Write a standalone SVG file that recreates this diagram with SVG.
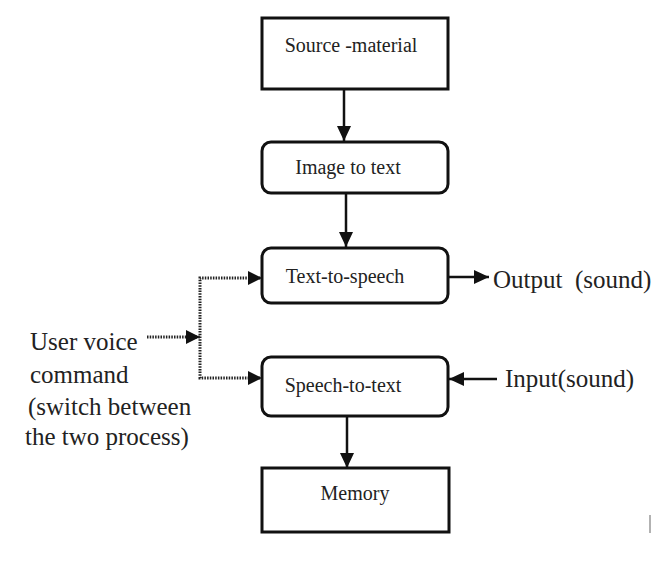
<svg xmlns="http://www.w3.org/2000/svg" width="657" height="565" viewBox="0 0 657 565">
<style>
.box{fill:#fff;stroke:#111;stroke-width:3}
.lbl{font-size:20px;fill:#222;text-anchor:middle}
.big{font-size:25px;fill:#222}
.ln{stroke:#111;stroke-width:2.5;fill:none}
.dot{stroke:#222;stroke-width:3;fill:none;stroke-dasharray:1.5 1.2}
</style>
<defs>
<marker id="ah" markerUnits="userSpaceOnUse" markerWidth="16" markerHeight="16" viewBox="0 0 16 16" refX="15" refY="8" orient="auto">
<path d="M0,1 L15,8 L0,15 Z" fill="#111"/>
</marker>
</defs>
<rect width="657" height="565" fill="#fff"/>
<g id="connectors">
<line class="ln" x1="344" y1="90" x2="344" y2="141" marker-end="url(#ah)"/>
<line class="ln" x1="346" y1="194" x2="346" y2="247" marker-end="url(#ah)"/>
<line class="ln" x1="449" y1="277" x2="489" y2="277" marker-end="url(#ah)"/>
<line class="ln" x1="497" y1="379" x2="449" y2="379" marker-end="url(#ah)"/>
<line class="ln" x1="347" y1="416" x2="347" y2="468" marker-end="url(#ah)"/>
<polyline class="dot" points="263,278 200,278 200,378 263,378"/>
<line class="dot" x1="147" y1="337" x2="200" y2="337"/>
<path d="M248,271 L262,278 L248,285 Z" fill="#111"/>
<path d="M248,371 L262,378 L248,385 Z" fill="#111"/>
<path d="M186,330 L200,337 L186,344 Z" fill="#111"/>
</g>
<g font-family="'Liberation Serif', 'DejaVu Serif', 'Times New Roman', serif">
<g id="source">
<rect class="box" x="262" y="18" width="186" height="71"/>
<text class="lbl" x="351" y="52">Source -material</text>
</g>
<g id="image2text">
<rect class="box" x="262" y="142" width="186" height="51" rx="9"/>
<text class="lbl" x="348" y="174">Image to text</text>
</g>
<g id="tts">
<rect class="box" x="262" y="248" width="186" height="55" rx="9"/>
<text class="lbl" x="345" y="283">Text-to-speech</text>
</g>
<g id="stt">
<rect class="box" x="262" y="357" width="186" height="59" rx="9"/>
<text class="lbl" x="343" y="392">Speech-to-text</text>
</g>
<g id="memory">
<rect class="box" x="262" y="468" width="187" height="64"/>
<text class="lbl" x="355" y="500">Memory</text>
</g>
<g id="output">
<text class="big" x="493" y="288" xml:space="preserve">Output  (sound)</text>
</g>
<g id="input">
<text class="big" x="505" y="387">Input(sound)</text>
</g>
<g id="user">
<text class="big" x="30" y="350">User voice</text>
<text class="big" x="30" y="383">command</text>
<text class="big" x="28" y="415">(switch between</text>
<text class="big" x="25" y="445">the two process)</text>
</g>
</g>
<line x1="650" y1="515" x2="650" y2="533" stroke="#999" stroke-width="1.5"/>
</svg>
